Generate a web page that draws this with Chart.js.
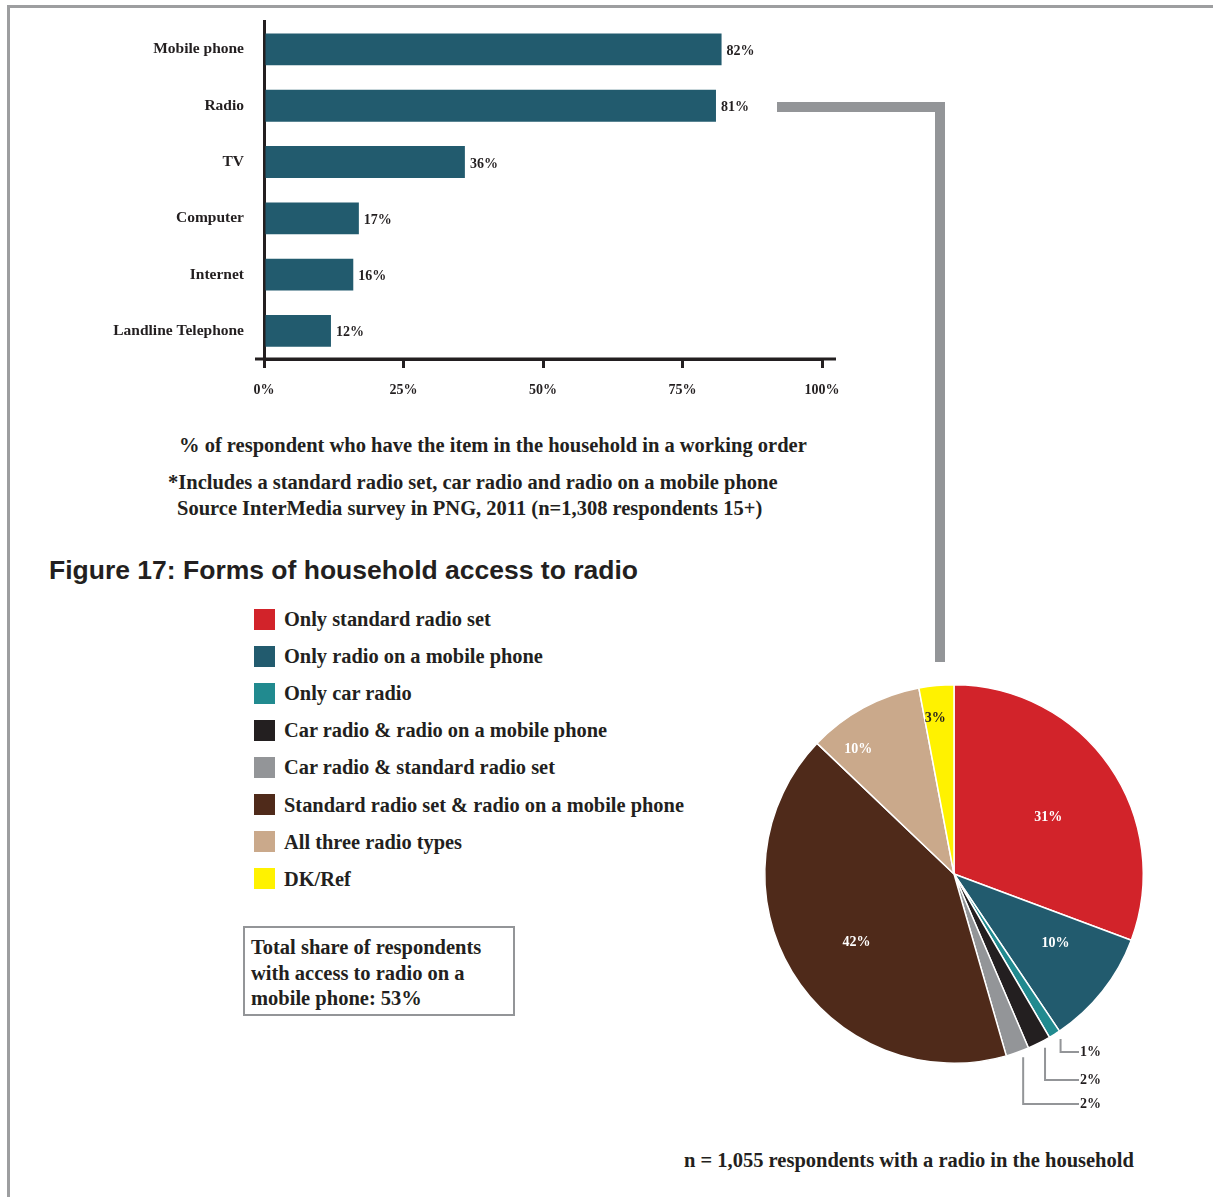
<!DOCTYPE html>
<html>
<head>
<meta charset="utf-8">
<script src="https://cdn.jsdelivr.net/npm/chart.js@4.4.1/dist/chart.umd.min.js"></script>
<style>
  body { margin: 0; width: 1213px; height: 1197px; position: relative; overflow: hidden; background: #fff;
         font-family: "Liberation Serif", serif; font-weight: bold; color: #231f20; }
  .abs { position: absolute; white-space: nowrap; }
  .line { font-size: 20.5px; line-height: 24px; }
  .rule { position: absolute; background: #9d9ea0; }
  .connector { position: absolute; background: #939598; }
  #title { font-family: "Liberation Sans", Arial, sans-serif; font-size: 26.5px; line-height: 30px; }
  .swatch { position: absolute; width: 21px; height: 21px; }
  #note { position: absolute; left: 243px; top: 926px; width: 272px; height: 90px; box-sizing: border-box;
          border: 2px solid #939598; padding: 7px 0 0 6px; font-size: 20.5px; line-height: 25.5px; }
</style>
</head>
<body>

<!-- page frame -->
<div class="rule" style="left:7px;top:5px;width:1206px;height:3px"></div>
<div class="rule" style="left:7px;top:5px;width:3px;height:1192px"></div>

<!-- the y tick padding also pads the top of the plot, so the canvas sits a little higher -->
<div class="abs" style="left:0;top:-8px"><canvas id="itemsChart" width="900" height="428"></canvas></div>

<div class="abs line" style="left:179px;top:433px">% of respondent who have the item in the household in a working order</div>
<div class="abs line" style="left:168px;top:470px">*Includes a standard radio set, car radio and radio on a mobile phone</div>
<div class="abs line" style="left:177px;top:496px">Source InterMedia survey in PNG, 2011 (n=1,308 respondents 15+)</div>

<div id="title" class="abs" style="left:49px;top:555px">Figure 17: Forms of household access to radio</div>

<div id="legend"></div>

<div id="note">Total share of respondents<br>with access to radio on a<br>mobile phone: 53%</div>

<!-- bracket joining the radio bar to the pie -->
<div class="connector" style="left:777px;top:102px;width:168px;height:10px"></div>
<div class="connector" style="left:935px;top:102px;width:10px;height:560px"></div>

<div class="abs" style="left:754px;top:674px"><canvas id="radioPie" width="400" height="460"></canvas></div>

<div class="abs line" style="left:684px;top:1148px">n = 1,055 respondents with a radio in the household</div>

<script>
// household items
const itemLabels = ['Mobile phone', 'Radio', 'TV', 'Computer', 'Internet', 'Landline Telephone'];
const itemShares = [82, 81, 36, 17, 16, 12];
const shareTicks = [0, 25, 50, 75, 100];

// forms of access to radio
const accessForms = [
  'Only standard radio set',
  'Only radio on a mobile phone',
  'Only car radio',
  'Car radio & radio on a mobile phone',
  'Car radio & standard radio set',
  'Standard radio set & radio on a mobile phone',
  'All three radio types',
  'DK/Ref'
];
const accessShares = [31, 10, 1, 2, 2, 42, 10, 3];

const ink = '#231f20';
const barColor = '#225b6e';
const sliceColors = ['#d2232a', '#225b6e', '#218a8f', '#231f20', '#939598', '#4f2a1a', '#caa98b', '#fff200'];
const sliceTextColors = ['#fff', '#fff', ink, ink, ink, '#fff', '#fff', ink];
// inside labels: distance as a fraction of the radius, and a small turn in degrees
const labelRadius = [0.58, 0.65, 0, 0, 0, 0.63, 0.83, 0.83];
const labelTurn = [4, -4, 0, 0, 0, -4, -9, -1.5];
// rows for the small-slice call-outs, below the centre
const calloutRows = [178, 206, 230];
const serif = '"Liberation Serif", serif';

// axis line runs a little past both ends of the plot, plus value labels
const barExtras = {
  id: 'barExtras',
  afterDraw(chart) {
    const { ctx, chartArea } = chart;
    ctx.save();
    ctx.strokeStyle = ink;
    ctx.lineWidth = 3;
    ctx.beginPath();
    ctx.moveTo(chartArea.left - 9, chartArea.bottom);
    ctx.lineTo(chartArea.right + 14, chartArea.bottom);
    ctx.stroke();

    ctx.fillStyle = ink;
    ctx.font = 'bold 14px ' + serif;
    ctx.textAlign = 'left';
    ctx.textBaseline = 'middle';
    chart.getDatasetMeta(0).data.forEach((bar, i) => {
      ctx.fillText(itemShares[i] + '%', bar.x + 5, bar.y + 2);
    });
    ctx.restore();
  }
};

new Chart(document.getElementById('itemsChart'), {
  type: 'bar',
  data: {
    labels: itemLabels,
    datasets: [{
      data: itemShares,
      backgroundColor: barColor,
      barPercentage: 0.565,
      categoryPercentage: 1
    }]
  },
  options: {
    indexAxis: 'y',
    responsive: false,
    animation: false,
    layout: { padding: { top: 12, right: 78, bottom: 0, left: 0 } },
    plugins: { legend: { display: false }, tooltip: { enabled: false } },
    scales: {
      x: {
        min: shareTicks[0],
        max: shareTicks[shareTicks.length - 1],
        afterBuildTicks: scale => { scale.ticks = shareTicks.map(v => ({ value: v })); },
        afterFit: scale => { scale.height = 61; },
        grid: { drawOnChartArea: false, drawTicks: true, tickLength: 9, color: ink, lineWidth: 3 },
        border: { display: true, color: ink, width: 3 },
        ticks: {
          callback: v => v + '%',
          font: { family: serif, size: 14, weight: 'bold' },
          color: ink,
          padding: 14,
          maxRotation: 0
        }
      },
      y: {
        afterFit: scale => { scale.width = 264; },
        grid: { display: false, drawTicks: false },
        border: { display: true, color: ink, width: 3 },
        ticks: {
          font: { family: serif, size: 15.5, weight: 'bold' },
          color: ink,
          padding: 20
        }
      }
    }
  },
  plugins: [barExtras]
});

// legend built from the same lists as the pie
const legendBox = document.getElementById('legend');
accessForms.forEach((name, i) => {
  const y = 619 + i * 37.1;
  const sw = document.createElement('div');
  sw.className = 'swatch';
  sw.style.left = '254px';
  sw.style.top = (y - 10.5) + 'px';
  sw.style.background = sliceColors[i];
  legendBox.appendChild(sw);
  const tx = document.createElement('div');
  tx.className = 'abs';
  tx.style.cssText = 'left:284px;top:' + (y - 13) + 'px;font-size:20.4px;line-height:26px';
  tx.textContent = name;
  legendBox.appendChild(tx);
});

// slice labels: inside for the larger slices, call-out lines for the thin ones
const pieLabels = {
  id: 'pieLabels',
  afterDraw(chart) {
    const { ctx } = chart;
    const arcs = chart.getDatasetMeta(0).data;
    ctx.save();
    ctx.font = 'bold 14px ' + serif;
    ctx.textBaseline = 'middle';
    let row = 0;
    arcs.forEach((arc, i) => {
      const { x, y, startAngle, endAngle, outerRadius } = arc.getProps(['x', 'y', 'startAngle', 'endAngle', 'outerRadius'], true);
      const mid = (startAngle + endAngle) / 2;
      const text = accessShares[i] + '%';
      if (labelRadius[i] > 0) {
        const r = outerRadius * labelRadius[i];
        const a = mid + labelTurn[i] * Math.PI / 180;
        ctx.fillStyle = sliceTextColors[i];
        ctx.textAlign = 'center';
        ctx.fillText(text, x + Math.cos(a) * r, y + Math.sin(a) * r);
      } else {
        const ex = x + Math.cos(mid) * (outerRadius + 2) + 5;
        const ey = y + Math.sin(mid) * (outerRadius + 2) + 3;
        const rowY = y + calloutRows[row++];
        ctx.strokeStyle = '#939598';
        ctx.lineWidth = 2;
        ctx.beginPath();
        ctx.moveTo(ex, ey);
        ctx.lineTo(ex, rowY);
        ctx.lineTo(x + 125, rowY);
        ctx.stroke();
        ctx.fillStyle = ink;
        ctx.textAlign = 'left';
        ctx.fillText(text, x + 126, rowY);
      }
    });
    ctx.restore();
  }
};

new Chart(document.getElementById('radioPie'), {
  type: 'pie',
  data: {
    labels: accessForms,
    datasets: [{
      data: accessShares,
      backgroundColor: sliceColors,
      borderColor: '#fff',
      borderWidth: 1.5
    }]
  },
  options: {
    responsive: false,
    animation: false,
    layout: { padding: { top: 10, right: 10, bottom: 70, left: 10 } },
    plugins: { legend: { display: false }, tooltip: { enabled: false } }
  },
  plugins: [pieLabels]
});
</script>
</body>
</html>
